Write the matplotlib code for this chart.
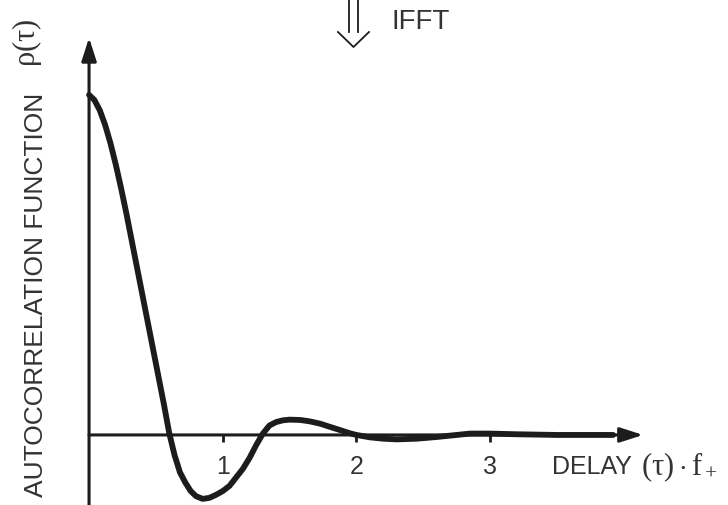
import matplotlib
matplotlib.use("Agg")
import matplotlib.pyplot as plt
from matplotlib.lines import Line2D

plt.rcParams["font.family"] = ["Liberation Sans", "DejaVu Sans"]
plt.rcParams["mathtext.fontset"] = "custom"
plt.rcParams["mathtext.rm"] = "Liberation Serif"
plt.rcParams["mathtext.it"] = "Liberation Serif"
plt.rcParams["mathtext.bf"] = "Liberation Serif:bold"

# autocorrelation rho(tau) against normalised delay tau * f+
tau = [0.00, 0.04, 0.08, 0.12, 0.16, 0.20, 0.24, 0.28, 0.32, 0.36,
       0.40, 0.44, 0.48, 0.52, 0.56, 0.60, 0.64, 0.68, 0.72, 0.76,
       0.80, 0.85, 0.90, 0.95, 1.00, 1.05, 1.10, 1.15, 1.20, 1.25,
       1.30, 1.35, 1.40, 1.45, 1.50, 1.58, 1.65, 1.73, 1.80, 1.88,
       1.95, 2.00, 2.10, 2.20, 2.30, 2.45, 2.60, 2.75, 2.85, 3.00,
       3.20, 3.50, 3.92]
rho = [1.000, 0.985, 0.955, 0.912, 0.858, 0.795, 0.725, 0.650, 0.570, 0.490,
       0.410, 0.330, 0.250, 0.170, 0.090, 0.005, -0.060, -0.110, -0.140, -0.165,
       -0.180, -0.188, -0.185, -0.176, -0.165, -0.150, -0.125, -0.100, -0.068, -0.030,
       0.004, 0.028, 0.038, 0.043, 0.045, 0.044, 0.040, 0.033, 0.024, 0.014,
       0.005, 0.000, -0.007, -0.011, -0.013, -0.011, -0.006, 0.000, 0.004, 0.004,
       0.002, 0.000, 0.000]

tick_pos = [1, 2, 3]
tick_txt = ["1", "2", "3"]

ink = "#1c1c1c"
txt = "#333333"

fig = plt.figure(figsize=(7.28, 5.05), dpi=100)
ax = fig.add_axes([0, 0, 1, 1])
ax.set_xlim(-0.666, 4.779)
ax.set_ylim(-0.206, 1.279)
ax.axis("off")

# axes drawn as arrows
arrow = dict(arrowstyle="-|>,head_length=1.4,head_width=0.45", lw=2.2,
             color=ink, shrinkA=0, shrinkB=0, mutation_scale=10)
ax.annotate("", xy=(0, 1.168), xytext=(0, -0.206), arrowprops=arrow)
ax.annotate("", xy=(4.144, 0), xytext=(0, 0), arrowprops=arrow)

ax.vlines(tick_pos, -0.022, 0, color=ink, lw=2)
for p, s in zip(tick_pos, tick_txt):
    ax.text(p, -0.094, s, ha="center", va="center", fontsize=18, color=txt)

ax.plot(tau, rho, color=ink, lw=4.2, solid_capstyle="round", solid_joinstyle="round")

ax.text(3.463, -0.094, "DELAY", ha="left", va="center", fontsize=18, color=txt)
fig.text(641 / 728, 38 / 505, r"$(\tau)\cdot f_+$", ha="left", va="center",
         fontsize=22, color=txt)

fig.text(36 / 728, 8 / 505, "AUTOCORRELATION FUNCTION",
         rotation=90, ha="center", va="bottom", fontsize=19, color=txt)
fig.text(27 / 728, 438 / 505, r"$\rho(\tau)$",
         rotation=90, ha="center", va="bottom", fontsize=22, color=txt)

# IFFT double arrow at the top
for x in (349, 358):
    fig.add_artist(Line2D([x / 728, x / 728], [505 / 505, 473 / 505],
                          color=ink, lw=1.3))
fig.add_artist(Line2D([338 / 728, 353.5 / 728, 369 / 728],
                      [473 / 505, 458 / 505, 473 / 505], color=ink, lw=1.3))
fig.text(392 / 728, 483 / 505, "IFFT", ha="left", va="center",
         fontsize=20, color=txt)

fig.savefig("out.png", dpi=100)
